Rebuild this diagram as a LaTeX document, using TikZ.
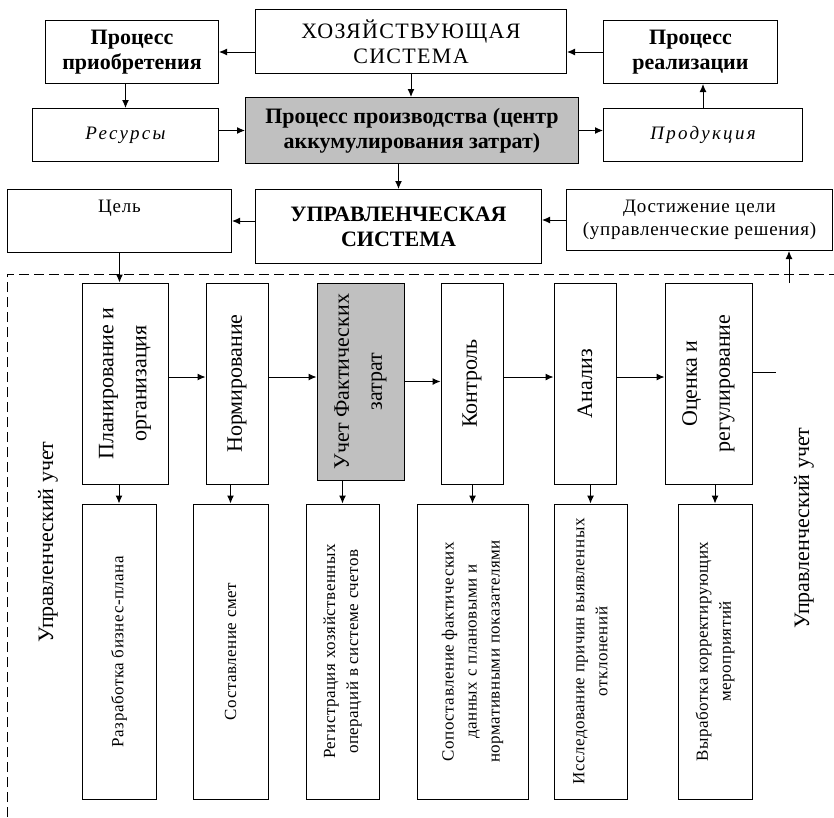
\documentclass[tikz,border=0pt]{standalone}
\usepackage{fontspec}
\setmainfont{Liberation Serif}
\newfontfamily\wfont[LetterSpace=4]{Liberation Serif}
\newfontfamily\bfont[LetterSpace=3]{Liberation Serif}
\newfontfamily\ifont[LetterSpace=12]{Liberation Serif}
\newfontfamily\capfont[LetterSpace=6]{Liberation Serif}
\usetikzlibrary{arrows.meta}
\newcommand{\hsz}{\fontsize{22}{25}\selectfont}
\newcommand{\vsz}{\fontsize{22}{33}\selectfont}
\newcommand{\ssz}{\fontsize{19}{23}\selectfont\wfont}
\newcommand{\bsz}{\fontsize{17}{23}\selectfont\bfont}
\newcommand{\isz}{\fontsize{19}{23}\selectfont\ifont\itshape}
\definecolor{costgray}{HTML}{C0C0C0}

\begin{document}
\begin{tikzpicture}[x=1pt,y=-1pt,
   box/.style={draw,line width=1pt,inner sep=1pt,align=center},
   hbox/.style={box,anchor=north west,font=\hsz},
   vbox/.style={box,rotate=90,font=\vsz},
   sbox/.style={box,rotate=90,font=\bsz,minimum width=295pt},
   arr/.style={line width=1pt,-{Latex[length=8pt,width=7pt]}},
   frame/.style={line width=1pt,dash pattern=on 10pt off 5pt}]
   \useasboundingbox (0,0) rectangle (834,817);
   \node[hbox,minimum width=311pt,minimum height=64pt,font=\hsz\capfont] (hoz) at (255,9) {ХОЗЯЙСТВУЮЩАЯ\\СИСТЕМА};
   \node[hbox,minimum width=173pt,minimum height=63pt,font=\hsz\bfseries] (acq) at (45,20) {Процесс\\приобретения};
   \node[hbox,minimum width=174pt,minimum height=63pt,font=\hsz\bfseries] (real) at (603,20) {Процесс\\реализации};
   \node[hbox,minimum width=186pt,minimum height=53pt,font=\isz] (res) at (32,108) {Ресурсы};
   \node[hbox,minimum width=333pt,minimum height=66pt,font=\hsz\bfseries,fill=costgray] (prod) at (245,97) {Процесс производства (центр\\аккумулирования затрат)};
   \node[hbox,minimum width=199pt,minimum height=53pt,font=\isz] (prodk) at (603,108) {Продукция};
   \node[hbox,minimum width=224pt,minimum height=63pt,font=\ssz] (goal) at (7,189) {Цель\\\strut};
   \node[hbox,minimum width=286pt,minimum height=74pt,font=\hsz\bfseries] (upr) at (255,189) {УПРАВЛЕНЧЕСКАЯ\\СИСТЕМА};
   \node[hbox,minimum width=266pt,minimum height=61pt,font=\ssz] (ach) at (566,189) {Достижение цели\\(управленческие решения)};

   \draw[arr] (hoz.west |- acq.east) -- (acq.east);
   \draw[arr] (real.west) -- (real.west -| hoz.east);
   \draw[arr] (acq.south -| res.north) -- (res.north);
   \draw[arr] (hoz.south) -- (hoz.south |- prod.north);
   \draw[arr] (res.east |- prod.west) -- (prod.west);
   \draw[arr] (prod.east) -- (prod.east -| prodk.west);
   \draw[arr] (prodk.north) -- (prodk.north |- real.south);
   \draw[arr] (prod.south -| upr.north) -- (upr.north);
   \draw[arr] (upr.west |- goal.east) -- (goal.east);
   \draw[arr] (ach.west) -- (ach.west -| upr.east);

   \draw[frame] (7,817) -- (7,274) -- (834,274);
   \node[rotate=90,font=\vsz] (lblL) at (48,542) {Управленческий учет};
   \node[rotate=90,font=\vsz] (lblR) at (804,528) {Управленческий учет};

   \node[vbox,minimum width=201pt,minimum height=86pt] (plan) at (125,383.5) {Планирование и\\организация};
   \node[vbox,minimum width=201pt,minimum height=62pt] (norm) at (237,383.5) {Нормирование};
   \node[vbox,minimum width=197pt,minimum height=87pt,fill=costgray] (fact) at (360.5,381.5) {Учет Фактических\\затрат};
   \node[vbox,minimum width=201pt,minimum height=62pt] (ctrl) at (472,383.5) {Контроль};
   \node[vbox,minimum width=201pt,minimum height=62pt] (anal) at (585,383.5) {Анализ};
   \node[vbox,minimum width=201pt,minimum height=87pt] (est) at (708.5,383.5) {Оценка и\\регулирование};

   \node[sbox,minimum height=74pt] (b1) at (119,651.5) {Разработка бизнес-плана};
   \node[sbox,minimum height=75pt] (b2) at (230.5,651.5) {Составление смет};
   \node[sbox,minimum height=73pt] (b3) at (342.5,651.5) {Регистрация хозяйственных\\операций в системе счетов};
   \node[sbox,minimum height=111pt] (b4) at (472.5,651.5) {Сопоставление фактических\\данных с плановыми и\\нормативными показателями};
   \node[sbox,minimum height=73pt] (b5) at (590.5,651.5) {Исследование причин выявленных\\отклонений};
   \node[sbox,minimum height=74pt] (b6) at (715,651.5) {Выработка корректирующих\\мероприятий};

   \coordinate (rowy) at (0,377);
   \coordinate (fbend) at (776,372);
   \coordinate (fb) at (789,283);
   \draw[arr] (goal.south) -- (goal.south |- plan.east);
   \draw[arr] (plan.south |- rowy) -- (norm.north |- rowy);
   \draw[arr] (norm.south |- rowy) -- (fact.north |- rowy);
   \draw[arr] (fact.south) -- (fact.south -| ctrl.north);
   \draw[arr] (ctrl.south |- rowy) -- (anal.north |- rowy);
   \draw[arr] (anal.south |- rowy) -- (est.north |- rowy);
   \draw[line width=1pt] (est.south |- fbend) -- (fbend);
   \draw[arr] (fb) -- (fb |- ach.south);
   \foreach \a/\b in {plan/b1,norm/b2,fact/b3,ctrl/b4,anal/b5,est/b6}
      \draw[arr] (\a.west -| \b.east) -- (\b.east);
\end{tikzpicture}
\end{document}
